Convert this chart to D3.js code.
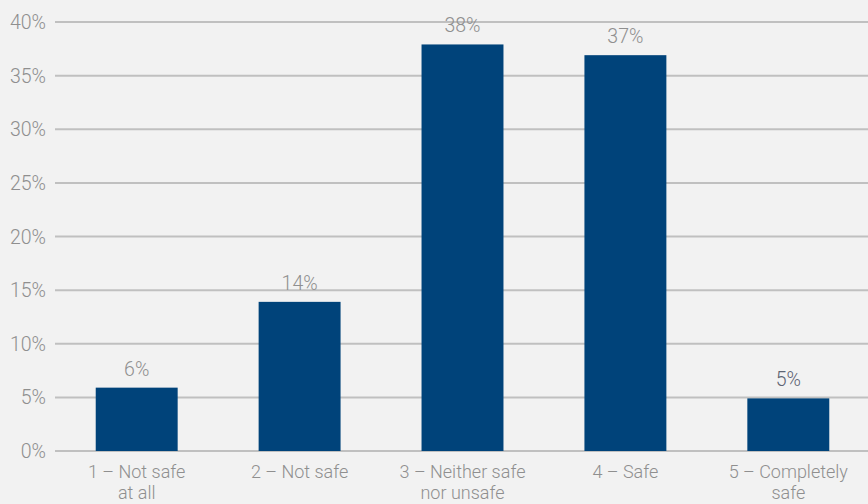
<!DOCTYPE html>
<html>
<head>
<meta charset="utf-8">
<script src="https://cdn.jsdelivr.net/npm/d3@7"></script>
<style>
    body { margin: 0; background: #f2f2f2; }
    text { font-family: Roboto, "DejaVu Sans Condensed", sans-serif; font-weight: 300; }
</style>
</head>
<body>
<div id="chart"></div>
<script>
// Data
var categories = ["1 – Not safe|at all", "2 – Not safe", "3 – Neither safe|nor unsafe", "4 – Safe", "5 – Completely|safe"];
var values = [6, 14, 38, 37, 5];
var yTicks = [0, 5, 10, 15, 20, 25, 30, 35, 40];

var margin = { top: 22, right: 0, bottom: 53, left: 55 };
var width = 868 - margin.left - margin.right;
var height = 504 - margin.top - margin.bottom;

var svg = d3.select("#chart")
    .append("svg")
    .attr("width", 868)
    .attr("height", 504)
    .style("background", "#f2f2f2")
    .append("g")
    .attr("transform", "translate(" + margin.left + "," + margin.top + ")");

var xScale = d3.scaleBand().domain(categories).range([0, 815]).paddingInner(0.497).paddingOuter(0.25);
var yScale = d3.scaleLinear().domain([0, 40]).range([height, 0]);

// Gridlines
svg.selectAll(".grid")
    .data(yTicks)
    .enter()
    .append("line")
    .attr("class", "grid")
    .attr("x1", 0)
    .attr("x2", width)
    .attr("y1", function (d) { return yScale(d); })
    .attr("y2", function (d) { return yScale(d); })
    .style("stroke", "#c0c0c0")
    .style("stroke-width", 2);

// Y tick labels
svg.selectAll(".ytick")
    .data(yTicks)
    .enter()
    .append("text")
    .attr("class", "ytick")
    .attr("x", -9)
    .attr("y", function (d) { return yScale(d); })
    .attr("dy", "0.36em")
    .attr("text-anchor", "end")
    .style("font-size", "19.5px")
    .style("fill", "#8f8f8f")
    .text(function (d) { return d + "%"; });

// Bars
svg.selectAll(".bar")
    .data(values)
    .enter()
    .append("rect")
    .attr("class", "bar")
    .attr("x", function (d, i) { return xScale(categories[i]); })
    .attr("width", xScale.bandwidth())
    .attr("y", function (d) { return yScale(d) + 1; })
    .attr("height", function (d) { return height - yScale(d) - 1; })
    .style("fill", "#00437a");

// Value labels
svg.selectAll(".val")
    .data(values)
    .enter()
    .append("text")
    .attr("class", "val")
    .attr("x", function (d, i) { return xScale(categories[i]) + xScale.bandwidth() / 2; })
    .attr("y", function (d) { return yScale(d) - 11; })
    .attr("text-anchor", "middle")
    .style("font-size", "19.5px")
    .style("fill", function (d, i) { return i === 4 ? "#5d6472" : "#8f8f8f"; })
    .text(function (d) { return d + "%"; });

// Category labels
var catLabels = svg.selectAll(".cat")
    .data(categories)
    .enter()
    .append("text")
    .attr("class", "cat")
    .attr("x", function (d) { return xScale(d) + xScale.bandwidth() / 2; })
    .attr("y", height + 27)
    .attr("text-anchor", "middle")
    .style("font-size", "18px")
    .style("fill", "#8f8f8f");

catLabels.each(function (d) {
    var lines = d.split("|");
    var t = d3.select(this);
    var x = t.attr("x");
    lines.forEach(function (line, j) {
        t.append("tspan")
            .attr("x", x)
            .attr("dy", j === 0 ? 0 : 21)
            .text(line);
    });
});
</script>
</body>
</html>
